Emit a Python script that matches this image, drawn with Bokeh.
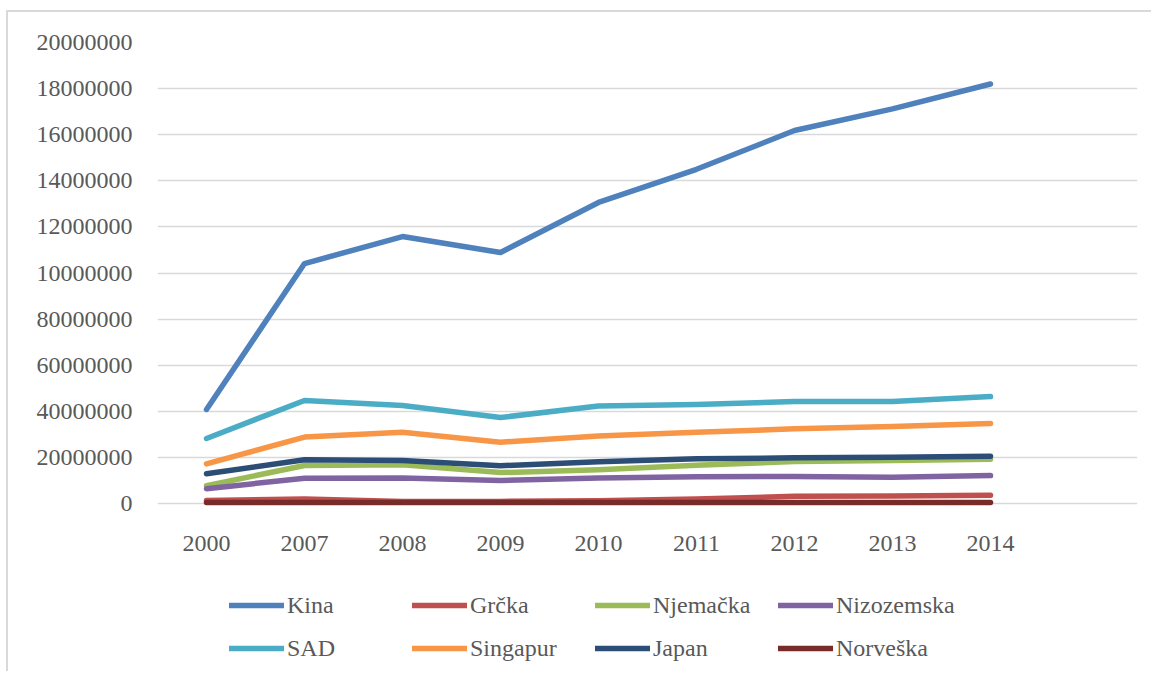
from bokeh.plotting import figure
from bokeh.models import Range1d, FixedTicker, Legend, LegendItem
from bokeh.embed import file_html
from bokeh.resources import INLINE
from bokeh.core.properties import value

years = ["2000", "2007", "2008", "2009", "2010", "2011", "2012", "2013", "2014"]

kina = [40.8e6, 104.1e6, 115.8e6, 108.9e6, 130.6e6, 145.0e6, 161.8e6, 171.2e6, 182.0e6]
grcka = [1.3e6, 1.9e6, 0.9e6, 0.9e6, 1.2e6, 2.0e6, 3.1e6, 3.3e6, 3.6e6]
njemacka = [7.7e6, 16.5e6, 16.8e6, 13.4e6, 14.6e6, 16.6e6, 18.2e6, 18.7e6, 19.2e6]
nizozemska = [6.4e6, 11.0e6, 11.1e6, 10.0e6, 11.1e6, 11.6e6, 11.7e6, 11.4e6, 12.1e6]
sad = [28.2e6, 44.7e6, 42.5e6, 37.3e6, 42.3e6, 43.0e6, 44.2e6, 44.3e6, 46.4e6]
singapur = [17.2e6, 28.8e6, 30.9e6, 26.6e6, 29.3e6, 30.9e6, 32.4e6, 33.4e6, 34.7e6]
japan = [12.9e6, 19.0e6, 18.7e6, 16.4e6, 18.1e6, 19.4e6, 19.8e6, 20.1e6, 20.5e6]
norveska = [0.4e6, 0.4e6, 0.4e6, 0.4e6, 0.4e6, 0.4e6, 0.4e6, 0.4e6, 0.4e6]

series_names = ["Kina", "Grčka", "Njemačka", "Nizozemska", "SAD", "Singapur", "Japan", "Norveška"]
series_values = [kina, grcka, njemacka, nizozemska, sad, singapur, japan, norveska]
series_colors = ["#4F81BD", "#C0504D", "#9BBB59", "#8064A2", "#4BACC6", "#F79646", "#2C4D75", "#772C2A"]

y_ticks = [0, 20e6, 40e6, 60e6, 80e6, 100e6, 120e6, 140e6, 160e6, 180e6, 200e6]
y_tick_labels = ["0", "20000000", "40000000", "60000000", "80000000", "10000000",
                 "12000000", "14000000", "16000000", "18000000", "20000000"]

FONT = "Liberation Serif"
GREY = "#595959"

# plot area: 0 at 461px below 200M, frame extends 170px below 0
Y_MAX = 200e6
Y_MIN = -Y_MAX * 170 / 461

p = figure(width=1145, height=661, output_backend="svg", toolbar_location=None,
           x_range=Range1d(-0.5, 9.5), y_range=Range1d(Y_MIN, Y_MAX),
           x_axis_location=None)
p.min_border_left = 149
p.min_border_right = 16
p.min_border_top = 30
p.min_border_bottom = 0
p.outline_line_color = None
p.background_fill_color = "white"
p.border_fill_color = "white"
p.styles = {"border-left": "2px solid #d9d9d9", "border-top": "2px solid #d9d9d9",
            "margin-left": "6px", "margin-top": "10px"}

xs = list(range(len(years)))
items = []
for name, vals, col in zip(series_names, series_values, series_colors):
    r = p.line(xs, vals, line_color=col, line_width=5.5, line_cap="round", line_join="round")
    items.append(LegendItem(label=name, renderers=[r]))

# category labels under the zero line
p.text(x=xs, y=[0] * len(xs), text=years, y_offset=40, text_align="center",
       text_baseline="middle", text_font=value(FONT), text_font_size="24px",
       text_color=GREY)

yax = p.yaxis[0]
yax.ticker = FixedTicker(ticks=y_ticks)
yax.major_label_overrides = {t: l for t, l in zip(y_ticks, y_tick_labels)}
yax.axis_line_color = None
yax.major_tick_line_color = None
yax.minor_tick_line_color = None
yax.major_tick_out = 0
yax.major_tick_in = 0
yax.major_label_text_font = FONT
yax.major_label_text_font_size = "24px"
yax.major_label_text_color = GREY
yax.major_label_standoff = 25

p.xgrid.grid_line_color = None
p.ygrid.ticker = FixedTicker(ticks=y_ticks)
p.ygrid.grid_line_color = "#D9D9D9"
p.ygrid.grid_line_width = 1.5

legend = Legend(items=items, location=(72, 11), orientation="horizontal", ncols=4,
                glyph_width=55, glyph_height=28, label_height=28, label_width=110,
                label_standoff=3, spacing=15, padding=0, margin=0,
                label_text_font=FONT, label_text_font_size="24px", label_text_color=GREY,
                border_line_color=None, background_fill_alpha=0)
p.add_layout(legend, "center")

open("out.html", "w").write(file_html(p, INLINE))
